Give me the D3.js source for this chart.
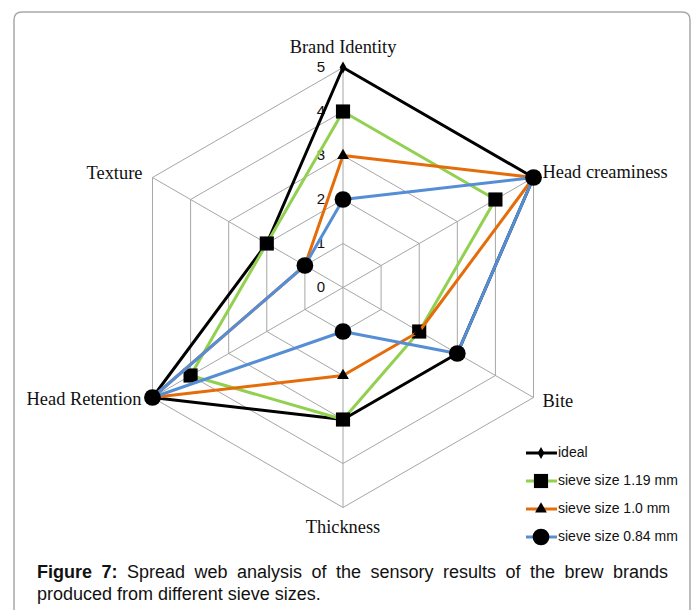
<!DOCTYPE html>
<html>
<head>
<meta charset="utf-8">
<script src="https://cdn.jsdelivr.net/npm/d3@7"></script>
<style>
  body { margin: 0; background: #fff; }
  #wrap { position: relative; width: 696px; height: 610px; overflow: hidden; }
  #caption {
    position: absolute; left: 37px; top: 561px; width: 631px;
    font: 18px "Liberation Sans", Arial, sans-serif; line-height: 22px;
    text-align: justify; color: #111;
  }
</style>
</head>
<body>
<div id="wrap">
  <svg id="chart" width="696" height="610"></svg>
  <div id="caption"><b>Figure 7:</b> Spread web analysis of the sensory results of the brew brands produced from different sieve sizes.</div>
</div>
<script>
// data
const axes = ['Brand Identity', 'Head creaminess', 'Bite', 'Thickness', 'Head Retention', 'Texture'];
const ticks = [0, 1, 2, 3, 4, 5];
const seriesNames = ['ideal', 'sieve size 1.19 mm', 'sieve size 1.0 mm', 'sieve size 0.84 mm'];
const ideal = [5, 5, 3, 3, 5, 2];
const sieve119 = [4, 4, 2, 3, 4, 2];
const sieve10 = [3, 5, 2, 2, 5, 1];
const sieve084 = [2, 5, 3, 1, 5, 1];

const series = [
  { name: seriesNames[0], values: ideal, color: '#000000', symbol: d3.symbolDiamond, size: 40 },
  { name: seriesNames[1], values: sieve119, color: '#92d050', symbol: d3.symbolSquare, size: 200 },
  { name: seriesNames[2], values: sieve10, color: '#e46c0a', symbol: d3.symbolTriangle, size: 60 },
  { name: seriesNames[3], values: sieve084, color: '#558ed5', symbol: d3.symbolCircle, size: 220 }
];

const svg = d3.select('#chart');
const cx = 343, cy = 287.5;

// frame around the figure (open at the bottom)
svg.append('path')
  .attr('d', 'M14,612 V20 Q14,12 22,12 H682 Q690,12 690,20 V612')
  .attr('fill', 'none')
  .attr('stroke', '#a8a8a8')
  .attr('stroke-width', 1.5);

const r = d3.scaleLinear().domain([0, 5]).range([0, 220]);
const angle = d3.scaleLinear().domain([0, axes.length]).range([0, 2 * Math.PI]);

function point(i, v) {
  const a = angle(i);
  return [cx + r(v) * Math.sin(a), cy - r(v) * Math.cos(a)];
}

const g = svg.append('g');

// hexagon rings
ticks.filter(t => t > 0).forEach(t => {
  g.append('path')
    .attr('d', d3.line()(axes.map((_, i) => point(i, t))) + 'Z')
    .attr('fill', 'none')
    .attr('stroke', '#a6a6a6')
    .attr('stroke-width', 1);
});

// spokes
axes.forEach((_, i) => {
  const [x, y] = point(i, 5);
  g.append('line')
    .attr('x1', cx).attr('y1', cy).attr('x2', x).attr('y2', y)
    .attr('stroke', '#a6a6a6')
    .attr('stroke-width', 1);
});

// tick labels along the first axis
g.selectAll('.tick')
  .data(ticks)
  .enter()
  .append('text')
  .attr('class', 'tick')
  .attr('x', cx - 22)
  .attr('y', d => cy - r(d) + 1)
  .attr('text-anchor', 'middle')
  .attr('dominant-baseline', 'middle')
  .style('font', '15px "Liberation Sans", Arial, sans-serif')
  .style('fill', '#111')
  .text(d => d);

// axis labels
const labelOffsets = [[0, -19, 'middle'], [9, -4, 'start'], [9, 5, 'start'],
                      [0, 21, 'middle'], [-11, 3, 'end'], [-10, -3, 'end']];
g.selectAll('.axis-label')
  .data(axes)
  .enter()
  .append('text')
  .attr('class', 'axis-label')
  .attr('x', (d, i) => point(i, 5)[0] + labelOffsets[i][0])
  .attr('y', (d, i) => point(i, 5)[1] + labelOffsets[i][1])
  .attr('text-anchor', (d, i) => labelOffsets[i][2])
  .attr('dominant-baseline', 'middle')
  .style('font', '18.4px "Liberation Serif", "Times New Roman", serif')
  .style('fill', '#111')
  .text(d => d);

// series
series.forEach(s => {
  const pts = s.values.map((v, i) => point(i, v));
  g.append('path')
    .attr('d', d3.line()(pts) + 'Z')
    .attr('fill', 'none')
    .attr('stroke', s.color)
    .attr('stroke-width', 3)
    .attr('stroke-linejoin', 'round');
  g.selectAll(null)
    .data(pts)
    .enter()
    .append('path')
    .attr('d', d3.symbol().type(s.symbol).size(s.size))
    .attr('transform', d => `translate(${d[0]},${d[1]})`)
    .attr('fill', '#000');
});

// legend
const legend = svg.append('g');
const rowY = d3.scalePoint().domain(seriesNames).range([453, 537]);
series.forEach(s => {
  const y = rowY(s.name);
  legend.append('line')
    .attr('x1', 526).attr('x2', 557).attr('y1', y).attr('y2', y)
    .attr('stroke', s.color).attr('stroke-width', 3);
  legend.append('path')
    .attr('d', d3.symbol().type(s.symbol).size(s.size))
    .attr('transform', `translate(541,${y})`)
    .attr('fill', '#000');
  legend.append('text')
    .attr('x', 558).attr('y', y)
    .attr('dominant-baseline', 'middle')
    .style('font', '14px "Liberation Sans", Arial, sans-serif')
    .style('fill', '#111')
    .text(s.name);
});
</script>
</body>
</html>
